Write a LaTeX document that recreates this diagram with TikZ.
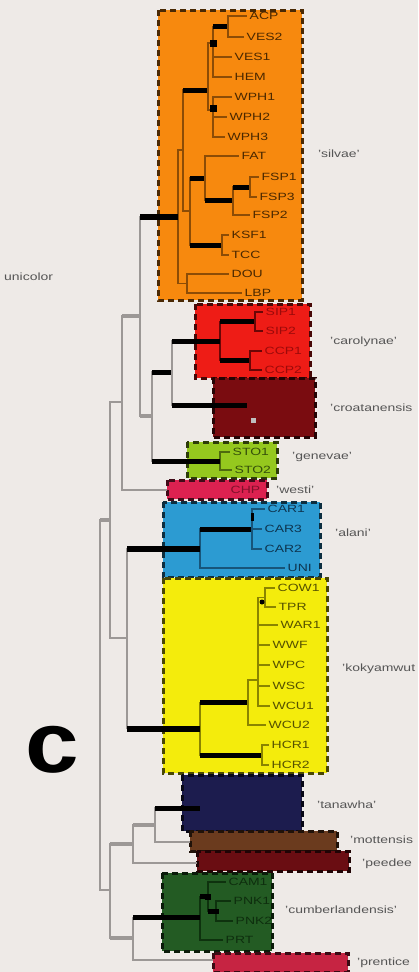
\documentclass[tikz,border=0pt]{standalone}
\usepackage{fontspec}
\setmainfont{Liberation Sans}
\definecolor{bg}{HTML}{EEEAE7}
\definecolor{treegray}{HTML}{9C9896}
\definecolor{labgray}{HTML}{555555}
\definecolor{cOr}{HTML}{F7890E}
\definecolor{cRed}{HTML}{EE1C16}
\definecolor{cCro}{HTML}{7A0C10}
\definecolor{cGen}{HTML}{95C81E}
\definecolor{cWes}{HTML}{DC2150}
\definecolor{cAla}{HTML}{2C9BD2}
\definecolor{cYel}{HTML}{F4EC0C}
\definecolor{cTan}{HTML}{1C1C4E}
\definecolor{cMot}{HTML}{6B3B1E}
\definecolor{cPee}{HTML}{6A0D12}
\definecolor{cCum}{HTML}{235B23}
\definecolor{cPre}{HTML}{C62442}
\definecolor{oLine}{HTML}{8C4C06}
\definecolor{tOr}{HTML}{4A2800}
\definecolor{rLine}{HTML}{6A0606}
\definecolor{tRed}{HTML}{9C0A0A}
\definecolor{gLine}{HTML}{4E6A0E}
\definecolor{tGen}{HTML}{35500A}
\definecolor{bLine}{HTML}{17557A}
\definecolor{tAla}{HTML}{0E3550}
\definecolor{yLine}{HTML}{8A8400}
\definecolor{tYel}{HTML}{555100}
\definecolor{cuLine}{HTML}{0E320E}
\definecolor{tCum}{HTML}{0E2E0E}
\definecolor{tWes}{HTML}{80102A}
\newcommand\leaffont{\fontsize{10.5}{12}\selectfont}
\newcommand\hsx[1]{\scalebox{1.33}[1]{#1}}
\newcommand\tElb[3]{\draw[#1] (#2) |- (#3);}
\newcommand\tBar[3][bbar]{\draw[#1] (#2 |- #3) -- (#3);}
\newcommand\cbox[3]{\fill[#1] #2 rectangle #3; \draw[clade,draw=#1!30!black] #2 rectangle #3;}
\newcommand\lv[5]{\node[leafst,text=#1] (#2) at (#3,#4) {\hsx{#5}};}
\begin{document}
\begin{tikzpicture}[x=1pt,y=-1pt,
  gline/.style={draw=treegray,line width=1.5pt},
  gthick/.style={draw=treegray,line width=4.5pt},
  bbar/.style={draw=black,line width=5pt},
  obar/.style={draw=black,line width=6pt},
  inl/.style={line width=1.2pt},
  clade/.style={dash pattern=on 6pt off 4pt,line width=3pt},
  leafst/.style={anchor=west,inner xsep=2.5pt,inner ysep=0pt,text height=7.6pt,text depth=0pt,font=\leaffont},
  spst/.style={anchor=west,inner sep=0pt,text height=7.6pt,text depth=0pt,font=\leaffont,text=labgray},
  nodemk/.style={fill=black,inner sep=0pt,minimum size=7pt}]
\useasboundingbox (0,0) rectangle (418,972);
\fill[bg] (0,0) rectangle (418,972);

% clade boxes
\cbox{cOr}{(158,10)}{(302,300)}
\cbox{cRed}{(195,304)}{(310,378)}
\cbox{cCro}{(213,378)}{(315,437)}
\cbox{cGen}{(187,442)}{(277,478)}
\cbox{cWes}{(167,480)}{(267,499)}
\cbox{cAla}{(163,502)}{(320,577)}
\cbox{cYel}{(163,578)}{(327,773)}
\cbox{cTan}{(182,775)}{(302,831)}
\cbox{cMot}{(190,831)}{(337,851)}
\cbox{cPee}{(197,851)}{(349,871)}
\cbox{cCum}{(162,873)}{(272,951)}
\cbox{cPre}{(213,953)}{(348,972)}

% leaf labels
\lv{tOr}{ACP}{247}{16}{ACP}
\lv{tOr}{VES2}{244}{37}{VES2}
\lv{tOr}{VES1}{232}{57}{VES1}
\lv{tOr}{HEM}{232}{77}{HEM}
\lv{tOr}{WPH1}{232}{97}{WPH1}
\lv{tOr}{WPH2}{227}{117}{WPH2}
\lv{tOr}{WPH3}{225}{137}{WPH3}
\lv{tOr}{FAT}{239}{156}{FAT}
\lv{tOr}{FSP1}{259}{177}{FSP1}
\lv{tOr}{FSP3}{257}{197}{FSP3}
\lv{tOr}{FSP2}{250}{215}{FSP2}
\lv{tOr}{KSF1}{229}{235}{KSF1}
\lv{tOr}{TCC}{229}{255}{TCC}
\lv{tOr}{DOU}{229}{274}{DOU}
\lv{tOr}{LBP}{242}{293}{LBP}
\lv{tRed}{SIP1}{263}{312}{SIP1}
\lv{tRed}{SIP2}{263}{331}{SIP2}
\lv{tRed}{CCP1}{262}{351}{CCP1}
\lv{tRed}{CCP2}{262}{370}{CCP2}
\lv{tGen}{STO1}{230}{452}{STO1}
\lv{tGen}{STO2}{232}{470}{STO2}
\lv{tWes}{CHP}{228}{490}{CHP}
\lv{tAla}{CAR1}{265}{509}{CAR1}
\lv{tAla}{CAR3}{262}{529}{CAR3}
\lv{tAla}{CAR2}{262}{549}{CAR2}
\lv{tAla}{UNI}{285}{568}{UNI}
\lv{tYel}{COW1}{275}{588}{COW1}
\lv{tYel}{TPR}{276}{607}{TPR}
\lv{tYel}{WAR1}{278}{625}{WAR1}
\lv{tYel}{WWF}{270}{645}{WWF}
\lv{tYel}{WPC}{270}{665}{WPC}
\lv{tYel}{WSC}{270}{686}{WSC}
\lv{tYel}{WCU1}{270}{706}{WCU1}
\lv{tYel}{WCU2}{266}{725}{WCU2}
\lv{tYel}{HCR1}{269}{745}{HCR1}
\lv{tYel}{HCR2}{269}{765}{HCR2}
\lv{tCum}{CAM1}{226}{882}{CAM1}
\lv{tCum}{PNK1}{231}{901}{PNK1}
\lv{tCum}{PNK2}{233}{921}{PNK2}
\lv{tCum}{PRT}{223}{940}{PRT}

% internal coordinates
\coordinate (R) at (100,704);
\coordinate (A1) at (110,520);
\coordinate (S) at (110,890);
\coordinate (P) at (122,402);
\coordinate (Q) at (127,638);
\coordinate (O) at (140,316);
\coordinate (wE) at (167,490);
\coordinate (OR) at (178,217);
\coordinate (N2) at (152,416);
\coordinate (N3) at (172,372);
\coordinate (G) at (220,461);
\coordinate (C0) at (220,341);
\coordinate (CR) at (247,405);
\coordinate (SIPn) at (255,321.5);
\coordinate (CCPn) at (250,360.5);
\coordinate (Al) at (200,548.5);
\coordinate (Al2) at (252,529);
\coordinate (K0) at (200,728.5);
\coordinate (K1) at (248,702.5);
\coordinate (K2) at (258,680);
\coordinate (K3) at (265,597.5);
\coordinate (HC) at (262,755);
\coordinate (T) at (133,844);
\coordinate (V) at (133,938);
\coordinate (U) at (155,825);
\coordinate (tE) at (200,808);
\coordinate (mE) at (190,842);
\coordinate (pE) at (197,863);
\coordinate (Cm) at (200,917.5);
\coordinate (Cm2) at (208,896.5);
\coordinate (Cm3) at (216,911);
\coordinate (prE) at (213,960);
\coordinate (N1) at (183,150);
\coordinate (DL) at (187,283.5);
\coordinate (W) at (208,90);
\coordinate (FT) at (190,211);
\coordinate (Vn) at (213,43);
\coordinate (Wp) at (213,110);
\coordinate (AV) at (228,26.5);
\coordinate (FS) at (205,178);
\coordinate (KT) at (222,245);
\coordinate (FSPn) at (233,200);
\coordinate (FS13) at (250,187);

% orange clade internal
\tElb{inl,draw=oLine}{OR}{N1}
\tElb{inl,draw=oLine}{OR}{DL}
\tElb{inl,draw=oLine}{N1}{W} \tBar{N1}{W}
\tElb{inl,draw=oLine}{N1}{FT}
\tElb{inl,draw=oLine}{W}{Vn}
\tElb{inl,draw=oLine}{W}{Wp}
\tElb{inl,draw=oLine}{Vn}{AV} \tBar[line width=4.5pt]{Vn}{AV}
\tElb{inl,draw=oLine}{Vn}{VES1.west}
\tElb{inl,draw=oLine}{Vn}{HEM.west}
\tElb{inl,draw=oLine}{AV}{ACP.west}
\tElb{inl,draw=oLine}{AV}{VES2.west}
\tElb{inl,draw=oLine}{Wp}{WPH1.west}
\tElb{inl,draw=oLine}{Wp}{WPH2.west}
\tElb{inl,draw=oLine}{Wp}{WPH3.west}
\tElb{inl,draw=oLine}{FT}{FS} \tBar{FT}{FS}
\tElb{inl,draw=oLine}{FT}{KT} \tBar{FT}{KT}
\tElb{inl,draw=oLine}{FS}{FAT.west}
\tElb{inl,draw=oLine}{FS}{FSPn} \tBar{FS}{FSPn}
\tElb{inl,draw=oLine}{FSPn}{FS13} \tBar{FSPn}{FS13}
\tElb{inl,draw=oLine}{FSPn}{FSP2.west}
\tElb{inl,draw=oLine}{FS13}{FSP1.west}
\tElb{inl,draw=oLine}{FS13}{FSP3.west}
\tElb{inl,draw=oLine}{KT}{KSF1.west}
\tElb{inl,draw=oLine}{KT}{TCC.west}
\tElb{inl,draw=oLine}{DL}{DOU.west}
\tElb{inl,draw=oLine}{DL}{LBP.west}
\node[nodemk] (mVn) at (Vn) {};
\node[nodemk] (mWp) at (213,108) {};

% carolynae / croatanensis / genevae
\tElb{inl,draw=rLine}{C0}{SIPn} \tBar{C0}{SIPn}
\tElb{inl,draw=rLine}{C0}{CCPn} \tBar{C0}{CCPn}
\tElb{inl,draw=rLine}{SIPn}{SIP1.west}
\tElb{inl,draw=rLine}{SIPn}{SIP2.west}
\tElb{inl,draw=rLine}{CCPn}{CCP1.west}
\tElb{inl,draw=rLine}{CCPn}{CCP2.west}
\node[fill=black!25,inner sep=0pt,minimum size=5pt] (crm) at (253,420) {};
\tElb{inl,draw=gLine}{G}{STO1.west}
\tElb{inl,draw=gLine}{G}{STO2.west}

% alani
\tElb{inl,draw=bLine}{Al}{Al2} \tBar{Al}{Al2}
\tElb{inl,draw=bLine}{Al}{UNI.west}
\tElb{inl,draw=bLine}{Al2}{CAR1.west}
\tElb{inl,draw=bLine}{Al2}{CAR3.west}
\tElb{inl,draw=bLine}{Al2}{CAR2.west}
\node[fill=black,inner sep=0pt,minimum width=3pt,minimum height=8pt] (alm) at (252,517) {};

% kokyamwut
\tElb{inl,draw=yLine}{K0}{K1} \tBar{K0}{K1}
\tElb{inl,draw=yLine}{K0}{HC} \tBar{K0}{HC}
\tElb{inl,draw=yLine}{K1}{K2}
\tElb{inl,draw=yLine}{K1}{WCU2.west}
\tElb{inl,draw=yLine}{K2}{K3}
\tElb{inl,draw=yLine}{K2}{WAR1.west}
\tElb{inl,draw=yLine}{K2}{WWF.west}
\tElb{inl,draw=yLine}{K2}{WPC.west}
\tElb{inl,draw=yLine}{K2}{WSC.west}
\tElb{inl,draw=yLine}{K2}{WCU1.west}
\tElb{inl,draw=yLine}{K3}{COW1.west}
\tElb{inl,draw=yLine}{K3}{TPR.west}
\tElb{inl,draw=yLine}{HC}{HCR1.west}
\tElb{inl,draw=yLine}{HC}{HCR2.west}
\node[circle,fill=black,inner sep=0pt,minimum size=5pt] (k3m) at (262,602) {};

% cumberlandensis
\tElb{inl,draw=cuLine}{Cm}{Cm2} \tBar{Cm}{Cm2}
\tElb{inl,draw=cuLine}{Cm}{PRT.west}
\tElb{inl,draw=cuLine}{Cm2}{CAM1.west}
\tElb{inl,draw=cuLine}{Cm2}{Cm3} \tBar{Cm2}{Cm3}
\tElb{inl,draw=cuLine}{Cm3}{PNK1.west}
\tElb{inl,draw=cuLine}{Cm3}{PNK2.west}
\node[nodemk,minimum size=6pt] (cm2m) at (Cm2) {};
\node[nodemk,minimum size=5pt] (cm3m) at (Cm3) {};

% outer tree
\tElb{gline}{R}{A1} \tBar[gthick]{R}{A1}
\tElb{gline}{R}{S}
\tElb{gline}{A1}{P}
\tElb{gline}{A1}{Q}
\tElb{gline}{P}{O} \tBar[gthick]{P}{O}
\tElb{gline}{P}{wE}
\tElb{gline}{O}{OR} \tBar[obar]{O}{OR}
\tElb{gline}{O}{N2} \tBar[gthick]{O}{N2}
\tElb{gline}{N2}{N3} \tBar{N2}{N3}
\tElb{gline}{N2}{G} \tBar{N2}{G}
\tElb{gline}{N3}{C0} \tBar{N3}{C0}
\tElb{gline}{N3}{CR} \tBar{N3}{CR}
\tElb{gline}{Q}{Al} \tBar[obar]{Q}{Al}
\tElb{gline}{Q}{K0} \tBar[obar]{Q}{K0}
\tElb{gline}{S}{T} \tBar[gthick]{S}{T}
\tElb{gline}{S}{V} \tBar[gthick]{S}{V}
\tElb{gline}{T}{U} \tBar[gthick]{T}{U}
\tElb{gline}{T}{pE}
\tElb{gline}{U}{tE} \tBar{U}{tE}
\tElb{gline}{U}{mE}
\tElb{gline}{V}{Cm} \tBar{V}{Cm}
\tElb{gline}{V}{prE}

% clade names
\node[spst] (silvae) at (318,154) {\hsx{'silvae'}};
\node[spst] (carolynae) at (330,341) {\hsx{'carolynae'}};
\node[spst] (croatanensis) at (330,408) {\hsx{'croatanensis}};
\node[spst] (genevae) at (292,456) {\hsx{'genevae'}};
\node[spst] (westi) at (276,490) {\hsx{'westi'}};
\node[spst] (alani) at (335,533) {\hsx{'alani'}};
\node[spst] (kokyamwut) at (342,668) {\hsx{'kokyamwut}};
\node[spst] (tanawha) at (317,805) {\hsx{'tanawha'}};
\node[spst] (mottensis) at (350,840) {\hsx{'mottensis}};
\node[spst] (peedee) at (362,863) {\hsx{'peedee}};
\node[spst] (cumberlandensis) at (285,910) {\hsx{'cumberlandensis'}};
\node[spst] (prenticei) at (357,962) {\hsx{'prentice}};
\node[spst] (unicolor) at (4,277) {\hsx{unicolor}};
\node[font=\bfseries\fontsize{86}{86}\selectfont,anchor=base,inner sep=0pt] (panel) at (52,772) {\scalebox{1.12}[1]{c}};
\end{tikzpicture}
\end{document}
